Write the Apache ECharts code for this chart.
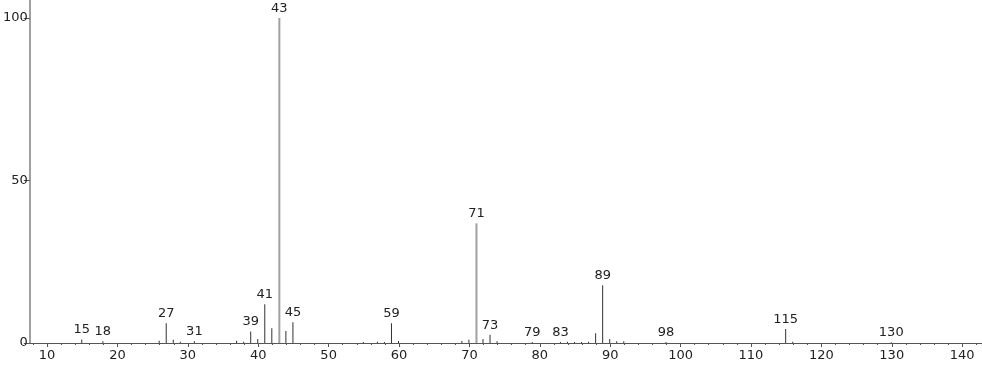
<!DOCTYPE html>
<html>
<head>
<meta charset="utf-8">
<script src="https://cdn.jsdelivr.net/npm/echarts@6/dist/echarts.min.js"></script>
<style>
html,body{margin:0;padding:0;background:#fff;}
#chart{width:982px;height:365px;}
</style>
</head>
<body>
<div id="chart"></div>
<script>
const mz =        [15, 18, 26, 27, 28, 29, 31, 37, 38, 39, 40, 41,  42,  43, 44, 45, 55, 57, 58, 59, 60, 69, 70, 71,  72, 73, 74, 79, 83, 84, 85, 86, 87, 88, 89,  90, 91, 92, 98, 115, 116, 130];
const intensity = [1.1,0.5,0.7,6.1,1.0,0.4,0.5,0.7,0.4,3.5,1.2,11.9,4.5,100, 3.7,6.4,0.3,0.4,0.3,6.1,0.6,0.6,1.0,36.8,1.2,2.5,0.5,0.3,0.3,0.4,0.3,0.3,0.4,3.0,17.8,1.2,0.5,0.5,0.3,4.3,0.4, 0.2];
const labeledPeaks = [15,18,27,31,39,41,43,45,59,71,73,79,83,89,98,115,130];
const xTickLabels = [10,20,30,40,50,60,70,80,90,100,110,120,130,140];
const xMinorTicks = [];
for (let v = 8; v <= 142; v += 2) { if (v % 10 !== 0) xMinorTicks.push(v); }
const yTickLabels = [0,50,100];

const pairs = mz.map((m, i) => [m, intensity[i]]);
const bigThreshold = 30;

const chart = echarts.init(document.getElementById('chart'));
const font = 'DejaVu Sans';
const peakLabel = {
  show: true, position: 'top', distance: 3,
  color: '#222', fontFamily: font, fontSize: 13,
  formatter: p => labeledPeaks.includes(p.value[0]) ? String(p.value[0]) : ''
};
chart.setOption({
  animation: false,
  grid: {left: 27, right: 0, top: 0, bottom: 22},
  xAxis: [{
    type: 'value', min: 7.55, max: 142.82,
    axisLine: {show: true, onZero: false, lineStyle: {color: '#555', width: 1}},
    axisTick: {show: true, length: 4, customValues: xTickLabels, lineStyle: {color: '#555'}},
    axisLabel: {customValues: xTickLabels, color: '#222', fontFamily: font, fontSize: 13, margin: 6},
    splitLine: {show: false}
  },{
    type: 'value', min: 7.55, max: 142.82, position: 'bottom',
    axisLine: {show: false},
    axisTick: {show: true, length: 2, customValues: xMinorTicks, lineStyle: {color: '#555'}},
    axisLabel: {show: false},
    splitLine: {show: false}
  }],
  yAxis: {
    type: 'value', min: 0, max: 105.5,
    axisLine: {show: true, lineStyle: {color: '#a0a0a0', width: 2}},
    axisTick: {show: true, length: 6, customValues: yTickLabels, lineStyle: {color: '#555'}},
    axisLabel: {customValues: yTickLabels, color: '#222', fontFamily: font, fontSize: 13, margin: 2},
    splitLine: {show: false}
  },
  series: [{
    type: 'bar',
    xAxisIndex: 0,
    barWidth: 1,
    barGap: '-100%',
    data: pairs.filter(p => p[1] < bigThreshold),
    itemStyle: {color: '#333'},
    label: peakLabel
  },{
    type: 'bar',
    xAxisIndex: 0,
    barWidth: 2,
    barGap: '-100%',
    data: pairs.filter(p => p[1] >= bigThreshold),
    itemStyle: {color: '#a0a0a0'},
    label: peakLabel
  }]
});
</script>
</body>
</html>
